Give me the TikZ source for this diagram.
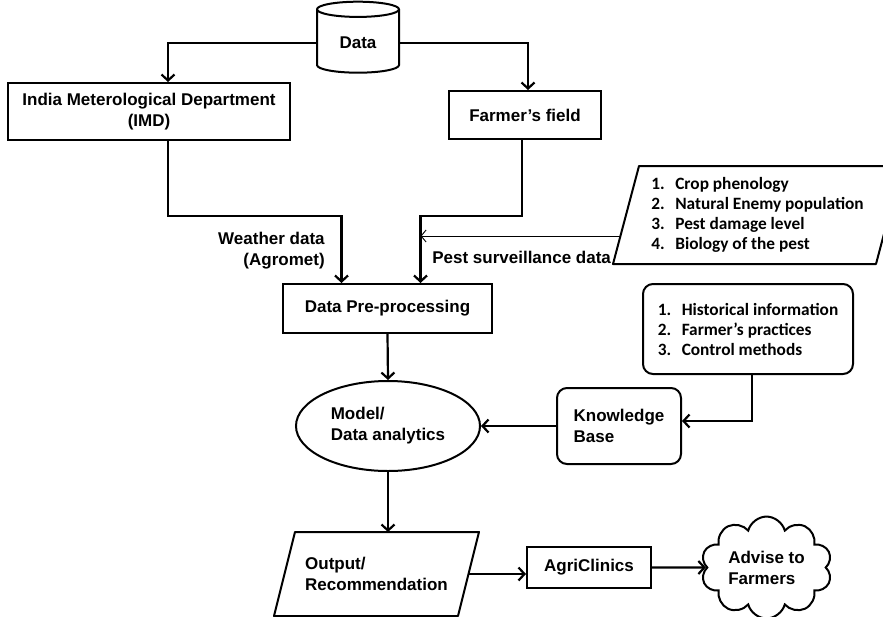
\documentclass[tikz,border=0pt]{standalone}
\usepackage{fontspec}
\setmainfont{Liberation Sans}
\newfontfamily\calib{Carlito}
\usetikzlibrary{arrows.meta,shapes.geometric,shapes.symbols,calc}

\begin{document}
\begin{tikzpicture}[x=1pt, y=-1pt,
    every node/.style={font=\fontsize{17}{21}\selectfont\bfseries, line width=2pt},
    box/.style={draw, rectangle, align=center, inner sep=0pt},
    rbox/.style={draw, rectangle, rounded corners=10pt, align=left, inner sep=0pt},
    lista/.style={font=\calib\bfseries\fontsize{17.3}{20}\selectfont, align=left},
    paral/.style={rectangle, inner sep=0pt, align=left, append after command={
        \pgfextra{\draw[line width=2pt, line join=round]
          ($(\tikzlastnode.north west)+(#1,0)$) -- ($(\tikzlastnode.north east)+(#1,0)$) --
          ($(\tikzlastnode.south east)-(#1,0)$) -- ($(\tikzlastnode.south west)-(#1,0)$) -- cycle;}}},
    conn/.style={line width=2.2pt, -{Straight Barb[length=6pt, width=13pt, line width=2.2pt]}},
    thinconn/.style={line width=0.9pt, -{Straight Barb[length=5pt, width=12pt, line width=0.9pt]}}
  ]
  \useasboundingbox (0,0) rectangle (883,616);

  % Fontes de dados
  \node[draw, cylinder, shape border rotate=90, aspect=0.35,
        minimum width=82pt, minimum height=71pt] (data) at (358,43) {Data};
  \node[box, minimum width=282pt, minimum height=57pt] (imd) at (149,111.5)
    {India Meterological Department\\(IMD)};
  \node[box, minimum width=152pt, minimum height=48pt] (field) at (525,115) {Farmer’s field};

  % Pre-processamento
  \node[box, minimum width=209pt, minimum height=49pt] (prep) at (387.5,308.5) {Data Pre-processing};
  \coordinate (win) at ([xshift=-46pt]prep.north);
  \coordinate (pin) at ([xshift=33pt]prep.north);
  \node[anchor=east, align=right] (wlbl) at (329,251) {Weather data\\(Agromet)};
  \node[anchor=west] (plbl) at (428,257) {Pest surveillance data};

  \node[paral=13, lista, minimum width=261pt, minimum height=96pt] (pest) at (757.5,215)
    {\makebox[24pt][l]{1.}Crop phenology\\
     \makebox[24pt][l]{2.}Natural Enemy population\\
     \makebox[24pt][l]{3.}Pest damage level\\
     \makebox[24pt][l]{4.}Biology of the pest};

  % Modelo e base de conhecimento
  \node[draw, ellipse, minimum width=184pt, minimum height=90pt, align=left, inner sep=0pt] (model)
    at (388,426) {Model/\\Data analytics};
  \node[rbox, minimum width=124pt, minimum height=76pt] (kb) at (619,426) {Knowledge\\Base};
  \node[rbox, lista, minimum width=210pt, minimum height=90pt] (hist) at (748,329)
    {\makebox[24pt][l]{1.}Historical information\\
     \makebox[24pt][l]{2.}Farmer’s practices\\
     \makebox[24pt][l]{3.}Control methods};

  % Saida
  \node[paral=10.5, minimum width=182pt, minimum height=82pt] (out) at (376.5,574)
    {Output/\\Recommendation};
  \node[box, minimum width=124pt, minimum height=41pt] (agri) at (589,567.5) {AgriClinics};
  \node[draw, cloud, cloud puffs=10, aspect=1.35, minimum width=131pt, minimum height=97pt,
        align=left, inner sep=0pt] (cloud) at (766.5,567.5) {Advise to\\Farmers};

  % Ligacoes
  \draw[conn] (data.west) -| ([xshift=19pt]imd.north);
  \draw[conn] (data.east) -| ([xshift=3pt]field.north);
  \draw[conn] ([xshift=19pt]imd.south) -- ++(0,75) -| (win);
  \draw[conn] ([xshift=-3pt]field.south) -- ++(0,76) -| (pin);
  \coordinate (pk) at ([xshift=-5.7pt, yshift=-21pt]pest.west);
  \draw[thinconn] (pk) -- (pk -| pin);
  \draw[conn] (prep.south) -- (model.north);
  \draw[conn] ([xshift=4pt]hist.south) |- ([yshift=5pt]kb.east);
  \draw[conn] (kb.west) -- (model.east);
  \draw[conn] (model.south) -- (model.south |- out.north);
  \draw[conn] (out.east) -- (out.east -| agri.west);
  \draw[conn] (agri.east) -- (cloud.west);
\end{tikzpicture}
\end{document}
